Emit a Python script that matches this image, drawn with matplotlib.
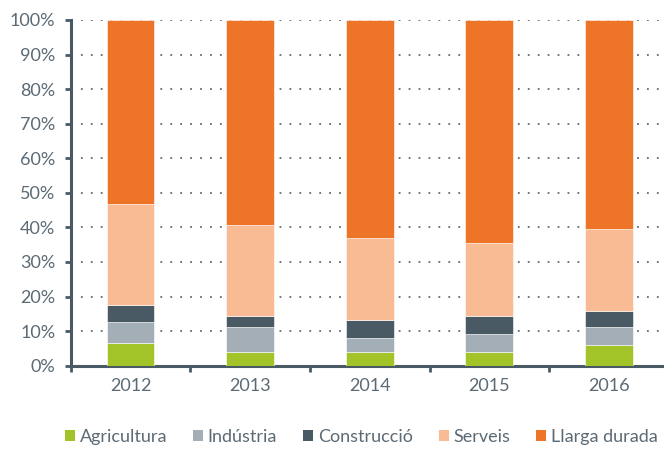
import numpy as np
import matplotlib.pyplot as plt
from matplotlib.patches import Patch
from matplotlib.ticker import FixedLocator, PercentFormatter

plt.rcParams['font.family'] = ['Lato', 'DejaVu Sans']

years = ["2012", "2013", "2014", "2015", "2016"]
series_names = ["Agricultura", "Indústria", "Construcció", "Serveis", "Llarga durada"]
agricultura = [6.6, 4.0, 4.0, 4.0, 5.9]
industria = [5.9, 7.2, 4.0, 5.2, 5.3]
construccio = [5.2, 3.2, 5.1, 5.2, 4.5]
serveis = [29.0, 26.3, 23.7, 21.1, 23.7]
llarga_durada = [53.3, 59.3, 63.2, 64.5, 60.6]

colors = ["#a2c428", "#a3aeb6", "#4a5a65", "#f8bb93", "#ee7428"]
axis_col = "#4a5a65"
text_col = "#5b6a74"

fig = plt.figure(figsize=(6.64, 4.49), dpi=100)
ax = fig.add_axes([0.1065, 0.1855, 0.8935, 0.77])

x = np.arange(len(years))
bottom = np.zeros(len(years))
for vals, c in zip([agricultura, industria, construccio, serveis, llarga_durada], colors):
    ax.bar(x, vals, 0.4, bottom=bottom, color=c, edgecolor="white", linewidth=0.4, zorder=3)
    bottom += np.array(vals)

ax.set_ylim(0, 100)
ax.set_xlim(-0.5, 4.46)
ax.set_yticks(np.arange(0, 101, 10))
ax.yaxis.set_major_formatter(PercentFormatter(decimals=0))
ax.set_xticks(x)
ax.set_xticklabels(years)
ax.xaxis.set_minor_locator(FixedLocator(np.arange(-0.5, 4.6, 1.0)))

ax.grid(axis="y", linestyle=(0, (1, 4.5)), linewidth=1.3, color="#5d6b75", zorder=0)
for s in ["top", "right"]:
    ax.spines[s].set_visible(False)
for s in ["left", "bottom"]:
    ax.spines[s].set_color(axis_col)
    ax.spines[s].set_linewidth(2.2)

ax.tick_params(axis="y", length=4, width=2, color=axis_col, labelcolor=text_col,
               labelsize=13, pad=7)
ax.tick_params(axis="x", which="major", length=0, labelcolor=text_col, labelsize=13, pad=9)
ax.tick_params(axis="x", which="minor", length=4, width=2, color=axis_col)

handles = [Patch(facecolor=c, edgecolor="none") for c in colors]
fig.legend(handles, series_names, loc="center", bbox_to_anchor=(0.544, 0.027), ncol=5,
           frameon=False, fontsize=13, labelcolor=text_col, handlelength=0.55,
           handleheight=0.55, handletextpad=0.25, columnspacing=1.45,
           borderaxespad=0, borderpad=0)

fig.savefig("out.png", dpi=100)
